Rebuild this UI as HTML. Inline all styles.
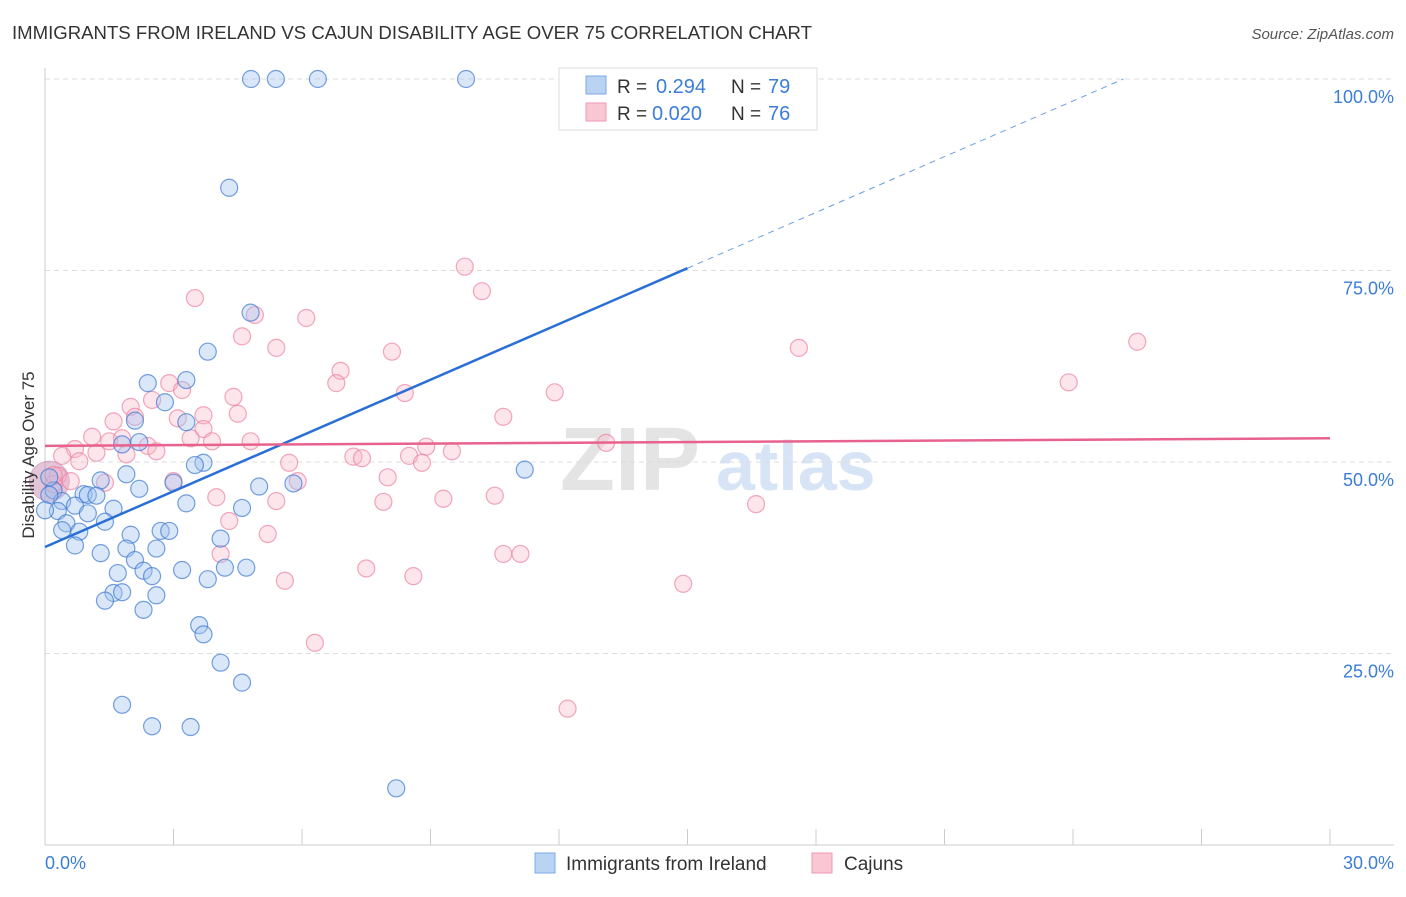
<!DOCTYPE html>
<html><head><meta charset="utf-8"><style>
body{margin:0;background:#fff;font-family:"Liberation Sans",sans-serif;}
svg text{font-family:"Liberation Sans",sans-serif;}
</style></head><body>
<svg width="1406" height="892" viewBox="0 0 1406 892" xmlns="http://www.w3.org/2000/svg">
<text x="12" y="39" font-size="18" fill="#333" textLength="800" lengthAdjust="spacingAndGlyphs">IMMIGRANTS FROM IRELAND VS CAJUN DISABILITY AGE OVER 75 CORRELATION CHART</text>
<text x="1394" y="39" font-size="15" fill="#555" text-anchor="end" font-style="italic">Source: ZipAtlas.com</text>
<text x="700" y="490" font-size="90" fill="#e4e4e4" text-anchor="end" font-family="Liberation Serif" font-weight="bold">ZIP</text>
<text x="716" y="490" font-size="70" fill="#d6e4f5" font-weight="bold">atlas</text>
<g id="grid"></g>
<g id="axes"></g>
<g id="points"></g>
<g id="trends"></g>
<text transform="translate(34,455) rotate(-90)" font-size="17" fill="#333" text-anchor="middle">Disability Age Over 75</text>
<text x="45" y="869" font-size="18" fill="#3b7dd8">0.0%</text>
<text x="1394" y="869" font-size="18" fill="#3b7dd8" text-anchor="end">30.0%</text>
<g>
<rect x="559" y="68" width="258" height="62" fill="#fff" stroke="#ddd"/>
<rect x="586" y="76" width="20" height="18" fill="#b9d3f3" stroke="#7ea9e4"/>
<rect x="586" y="103" width="20" height="18" fill="#f9c6d4" stroke="#ef9ab2"/>
<text x="617" y="93" font-size="19" fill="#333">R =</text>
<text x="656" y="93" font-size="20" fill="#3b7dd8">0.294</text>
<text x="731" y="93" font-size="19" fill="#333">N =</text>
<text x="768" y="93" font-size="20" fill="#3b7dd8">79</text>
<text x="617" y="120" font-size="19" fill="#333">R =</text>
<text x="652" y="120" font-size="20" fill="#3b7dd8">0.020</text>
<text x="731" y="120" font-size="19" fill="#333">N =</text>
<text x="768" y="120" font-size="20" fill="#3b7dd8">76</text>
</g>
<g>
<rect x="535" y="853" width="20" height="20" fill="#b9d3f3" stroke="#7ea9e4"/>
<text x="566" y="870" font-size="19" fill="#333">Immigrants from Ireland</text>
<rect x="812" y="853" width="20" height="20" fill="#f9c6d4" stroke="#ef9ab2"/>
<text x="844" y="870" font-size="19" fill="#333">Cajuns</text>
</g>
</svg>
<script>
const yTicks=[25,50,75,100];
const yTickLabels=["25.0%","50.0%","75.0%","100.0%"];
const xTicks=[0,3,6,9,12,15,18,21,24,27,30];
const blueX=[4.81,5.39,6.37,9.83,4.3,3.8,4.8,3.3,2.4,2.8,3.3,2.1,2.2,1.8,3.7,3.5,11.2,1.9,3.0,1.3,2.2,0.2,0.9,1.0,1.2,0.4,0.7,3.3,4.6,5.0,5.8,1.6,1.0,0.3,0.5,1.4,0.8,0.4,0.7,2.0,2.7,2.9,4.1,1.3,1.9,2.6,2.1,1.7,2.3,2.5,3.2,3.8,4.2,4.7,1.6,1.8,1.4,2.6,2.3,3.6,3.7,4.1,4.6,1.8,2.5,3.4,8.2,0.1,0.0,0.1];
const blueY=[100,100,100,100,85.8,64.4,69.5,60.7,60.3,57.8,55.2,55.4,52.6,52.3,49.9,49.6,49.0,48.4,47.3,47.6,46.5,46.3,45.8,45.7,45.6,44.9,44.3,44.6,44.0,46.8,47.2,43.9,43.3,43.6,42.0,42.2,40.9,41.1,39.1,40.5,41.0,41.0,40.0,38.1,38.7,38.7,37.2,35.5,35.8,35.1,35.9,34.7,36.2,36.2,32.9,33.0,31.9,32.6,30.7,28.7,27.5,23.8,21.2,18.3,15.5,15.4,7.4,45.7,43.7,48.0];
const pinkX=[9.8,10.2,3.5,4.9,6.1,4.6,5.4,8.1,17.6,25.5,23.9,6.9,6.8,2.9,3.2,8.4,11.9,4.4,2.0,2.5,3.7,4.5,10.7,3.1,1.6,2.1,3.7,1.1,1.5,1.8,3.4,3.9,4.8,2.4,2.6,0.7,1.2,8.9,9.5,13.1,0.4,0.8,1.9,7.2,7.4,8.5,5.7,8.8,0.3,0.6,1.4,3.0,5.9,8.0,0.2,0.2,4.0,5.4,7.9,9.3,10.5,16.6,4.3,5.2,4.1,10.7,11.1,7.5,8.6,5.6,14.9,6.3,12.2];
const pinkY=[75.5,72.3,71.4,69.2,68.8,66.4,64.9,64.4,64.9,65.7,60.4,61.9,60.3,60.3,59.4,59.0,59.1,58.5,57.2,58.1,56.1,56.3,55.9,55.7,55.3,55.9,54.3,53.3,52.7,53.1,53.1,52.7,52.7,52.1,51.4,51.7,51.2,52.0,51.4,52.5,50.8,50.1,51.0,50.7,50.5,50.8,49.9,49.9,48.2,47.5,47.3,47.5,47.5,48.0,47.1,48.3,45.4,44.9,44.8,45.2,45.6,44.5,42.3,40.6,38.0,38.0,38.0,36.1,35.1,34.5,34.1,26.4,17.8];
const blueTrend=[38.9,111.7];
const pinkTrend=[52.1,53.1];
const X0=45,X1=1330,YB=845,YT=79;
const xs=v=>X0+v/30*(X1-X0);
const ys=v=>YB-v/100*(YB-YT);
const NS="http://www.w3.org/2000/svg";
function mk(tag,attrs,parent){const e=document.createElementNS(NS,tag);for(const k in attrs)e.setAttribute(k,attrs[k]);document.getElementById(parent).appendChild(e);return e;}
yTicks.forEach((t,i)=>{
 const g=mk('line',{x1:X0,x2:1394,y1:ys(t),y2:ys(t),stroke:'#ddd','stroke-dasharray':'5,4'},'grid');
 
 
 const tx=mk('text',{x:1394,y:ys(t)+24,'font-size':18,fill:'#3b7dd8','text-anchor':'end'},'grid');
 tx.textContent=yTickLabels[i];
 
 
});
const ax=mk('line',{x1:X0,x2:X0,y1:68,y2:YB,stroke:'#ccc'},'axes');


const bx=mk('line',{x1:X0,x2:1394,y1:YB,y2:YB,stroke:'#ccc'},'axes');


xTicks.forEach(t=>{
 const l=mk('line',{x1:xs(t),x2:xs(t),y1:YB-16,y2:YB,stroke:'#ccc'},'axes');
 
 
});
const big=mk('circle',{cx:xs(0.1),cy:ys(47.5),r:20,fill:'rgba(200,140,180,0.5)',stroke:'rgba(200,140,180,0.6)'},'points');


pinkX.forEach((x,i)=>{
 const c=mk('circle',{cx:xs(x),cy:ys(pinkY[i]),r:8.5,fill:'rgba(248,180,200,0.35)',stroke:'rgba(236,130,160,0.7)','stroke-width':1.2},'points');
 
 
});
blueX.forEach((x,i)=>{
 const c=mk('circle',{cx:xs(x),cy:ys(blueY[i]),r:8.5,fill:'rgba(160,195,240,0.4)',stroke:'rgba(60,120,210,0.7)','stroke-width':1.2},'points');
 
 
});
const bAt=x=>blueTrend[0]+(blueTrend[1]-blueTrend[0])*x/30;
const bl=mk('line',{x1:xs(0),y1:ys(bAt(0)),x2:xs(15),y2:ys(bAt(15)),stroke:'#2a6fd6','stroke-width':2.5},'trends');


const xEnd=(100-blueTrend[0])/(blueTrend[1]-blueTrend[0])*30;
const bd=mk('line',{x1:xs(15),y1:ys(bAt(15)),x2:xs(xEnd),y2:ys(100),stroke:'#6a9de0','stroke-width':1,'stroke-dasharray':'6,5'},'trends');


const pl=mk('line',{x1:xs(0),y1:ys(pinkTrend[0]),x2:xs(30),y2:ys(pinkTrend[1]),stroke:'#e8628e','stroke-width':2.5},'trends');


</script>
</body></html>
